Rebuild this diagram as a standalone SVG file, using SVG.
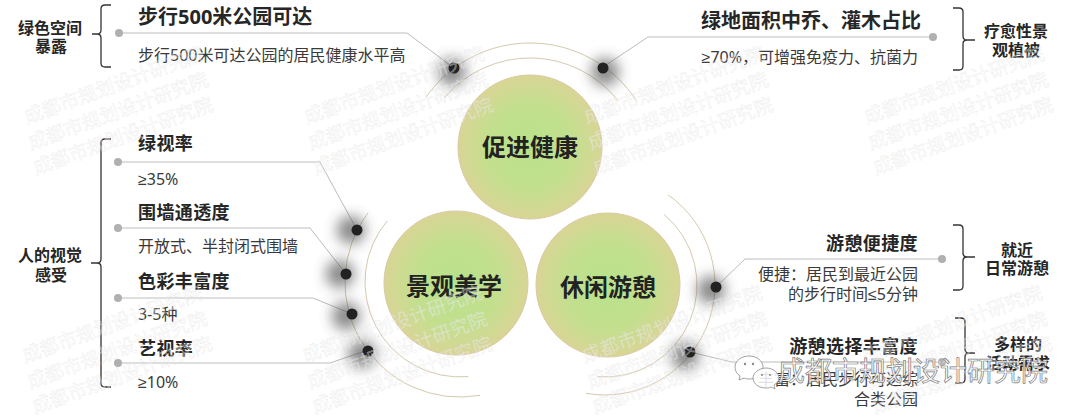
<svg xmlns="http://www.w3.org/2000/svg" width="1080" height="418" viewBox="0 0 1080 418">
<defs>
<style>
text{font-family:"Noto Sans","Noto Sans CJK SC","Liberation Sans",sans-serif;}
.title{font-size:18px;font-weight:bold;fill:#262626;letter-spacing:0.4px;}
.ttop{font-size:20px;font-weight:bold;fill:#262626;}
.body{font-size:16px;fill:#3a3a3a;}
.sym{font-family:"Liberation Sans",sans-serif;}
.lbl{font-size:16px;font-weight:bold;fill:#262626;text-anchor:middle;}
.ctext{font-size:24px;font-weight:bold;fill:#222;text-anchor:middle;}
.brk{fill:none;stroke:#333;stroke-width:1.3;}
.arc{fill:none;stroke:#d6c9ae;stroke-width:1;}
.ln{fill:none;stroke:#bdbdbd;stroke-width:1;}
.gdot{fill:#b0b0b0;}
.bdot{fill:#222;}
.shd{fill:#3a3a3a;opacity:0.6;filter:url(#blur);}
.circ{fill:url(#cg);stroke:#d9c9a3;stroke-width:1;}
.wm{font-family:"Noto Sans CJK SC",sans-serif;font-size:19px;fill:#fff;fill-opacity:0.35;stroke:#d2d2d2;stroke-width:0.5;stroke-opacity:0.42;}
</style>
<radialGradient id="cg" cx="0.5" cy="0.5" r="0.5">
<stop offset="0" stop-color="#b8e28c"/>
<stop offset="0.6" stop-color="#c3df8e"/>
<stop offset="1" stop-color="#d9d595"/>
</radialGradient>
<filter id="blur" x="-2" y="-2" width="5" height="5"><feGaussianBlur stdDeviation="7"/></filter>
</defs>
<rect width="1080" height="418" fill="#fff"/>

<g id="arcs">
<path class="arc" d="M426,97.1 A127,127 0 0 1 636.5,100.8"/>
<path class="arc" d="M444.2,98 A112,112 0 0 1 618.3,101"/>
<path class="arc" d="M368.1,212.8 A115,115 0 0 0 480,395.3"/>
<path class="arc" d="M387.2,220.9 A95,95 0 0 0 468.3,376.6"/>
<path class="arc" d="M668.1,194.9 A110,110 0 0 1 585.9,393.3"/>
<path class="arc" d="M664.1,214.5 A92,92 0 0 1 597,376.7"/>
</g>

<g id="node-health"><circle class="circ" cx="530" cy="147" r="72"/><text class="ctext" x="530" y="156">促进健康</text></g>
<g id="node-aesthetics"><circle class="circ" cx="456" cy="283" r="72"/><text class="ctext" x="454" y="295">景观美学</text></g>
<g id="node-leisure"><circle class="circ" cx="608" cy="285" r="72"/><text class="ctext" x="608" y="296">休闲游憩</text></g>

<g id="connectors">
<polyline class="ln" points="119,33 407,33 454,68"/>
<polyline class="ln" points="933,37 648,37 603,67"/>
<polyline class="ln" points="118,162 320,162 357,230"/>
<polyline class="ln" points="118,228 310,228 346,274"/>
<polyline class="ln" points="118,298 313,298 352,314"/>
<polyline class="ln" points="118,363 330,363 368,350"/>
<polyline class="ln" points="942,259 745,259 716,287"/>
<polyline class="ln" points="942,362 732,362 690,352"/>
<g>
<circle class="gdot" cx="119" cy="33" r="4"/><circle class="gdot" cx="933" cy="37" r="4"/>
<circle class="gdot" cx="118" cy="162" r="4"/><circle class="gdot" cx="118" cy="228" r="4"/>
<circle class="gdot" cx="118" cy="298" r="4"/><circle class="gdot" cx="118" cy="363" r="4"/>
<circle class="gdot" cx="942" cy="259" r="4"/><circle class="gdot" cx="942" cy="362" r="4"/>
</g>
<g>
<circle class="shd" cx="452" cy="72" r="14"/><circle class="shd" cx="605" cy="72" r="14"/>
<circle class="shd" cx="351" cy="230" r="14"/><circle class="shd" cx="340" cy="274" r="14"/>
<circle class="shd" cx="346" cy="316" r="14"/><circle class="shd" cx="362" cy="354" r="14"/>
<circle class="shd" cx="711" cy="290" r="14"/><circle class="shd" cx="685" cy="356" r="14"/>
</g>
<g>
<circle class="bdot" cx="454" cy="68" r="5.5"/><circle class="bdot" cx="603" cy="68" r="5.5"/>
<circle class="bdot" cx="357" cy="230" r="5.5"/><circle class="bdot" cx="346" cy="274" r="5.5"/>
<circle class="bdot" cx="352" cy="314" r="5.5"/><circle class="bdot" cx="368" cy="351" r="5.5"/>
<circle class="bdot" cx="716" cy="287" r="5.5"/><circle class="bdot" cx="690" cy="352" r="5.5"/>
</g>
</g>

<g id="group-green-exposure">
<path class="brk" d="M111,5 H105 Q101,5 101,9 V30 Q101,34 97,34 H92 H97 Q101,34 101,38 V63 Q101,67 105,67 H111"/>
<text class="lbl" x="50" y="34">绿色空间</text>
<text class="lbl" x="51" y="52">暴露</text>
</g>
<g id="item-walk500">
<text class="ttop" x="138" y="24">步行500米公园可达</text>
<text class="body" x="138" y="61">步行500米可达公园的居民健康水平高</text>
</g>

<g id="group-healing">
<path class="brk" d="M953,8 H959 Q963,8 963,12 V36 Q963,40 967,40 H975 H967 Q963,40 963,44 V66 Q963,70 959,70 H953"/>
<text class="lbl" x="1016" y="37">疗愈性景</text>
<text class="lbl" x="1016" y="56">观植被</text>
</g>
<g id="item-trees">
<text class="ttop" x="921" y="28" text-anchor="end">绿地面积中乔、灌木占比</text>
<text class="body" x="918" y="63" text-anchor="end"><tspan class="sym">≥</tspan>70%，可增强免疫力、抗菌力</text>
</g>

<g id="group-visual">
<path class="brk" d="M111,139 H105 Q101,139 101,143 V259 Q101,263 97,263 H91 H97 Q101,263 101,267 V383 Q101,387 105,387 H111"/>
<text class="lbl" x="50" y="261">人的视觉</text>
<text class="lbl" x="51" y="281">感受</text>
</g>
<g id="item-green-view">
<text class="title" x="138" y="150">绿视率</text>
<text class="body" x="138" y="185"><tspan class="sym">≥</tspan>35%</text>
</g>
<g id="item-wall">
<text class="title" x="138" y="219">围墙通透度</text>
<text class="body" x="138" y="252">开放式、半封闭式围墙</text>
</g>
<g id="item-color">
<text class="title" x="138" y="288">色彩丰富度</text>
<text class="body" x="138" y="320">3-5种</text>
</g>
<g id="item-art">
<text class="title" x="138" y="355">艺视率</text>
<text class="body" x="138" y="388"><tspan class="sym">≥</tspan>10%</text>
</g>

<g id="group-nearby">
<path class="brk" d="M953,225 H959 Q963,225 963,229 V253 Q963,257 967,257 H975 H967 Q963,257 963,261 V286 Q963,290 959,290 H953"/>
<text class="lbl" x="1017" y="256">就近</text>
<text class="lbl" x="1017" y="274">日常游憩</text>
</g>
<g id="item-convenience">
<text class="title" x="918" y="250" text-anchor="end">游憩便捷度</text>
<text class="body" x="918" y="280" text-anchor="end">便捷：居民到最近公园</text>
<text class="body" x="918" y="300" text-anchor="end">的步行时间<tspan class="sym">≤</tspan>5分钟</text>
</g>

<g id="group-diverse">
<path class="brk" d="M955,318 H961 Q965,318 965,322 V349 Q965,353 969,353 H975 H969 Q965,353 965,357 V379 Q965,383 961,383 H955"/>
<text class="lbl" x="1018" y="350">多样的</text>
<text class="lbl" x="1018" y="369">活动需求</text>
</g>
<g id="item-choice">
<text class="title" x="918" y="353" text-anchor="end">游憩选择丰富度</text>
<text class="body" x="918" y="385" text-anchor="end">丰富：居民步行可达综</text>
<text class="body" x="918" y="405" text-anchor="end">合类公园</text>
</g>

<g id="watermark">
<g class="wm">
<text transform="translate(27,124) rotate(-20)">成都市规划设计研究院</text>
<text transform="translate(31,150) rotate(-20)">成都市规划设计研究院</text>
<text transform="translate(36,175) rotate(-20)">成都市规划设计研究院</text>
<text transform="translate(307,124) rotate(-20)">成都市规划设计研究院</text>
<text transform="translate(311,150) rotate(-20)">成都市规划设计研究院</text>
<text transform="translate(316,175) rotate(-20)">成都市规划设计研究院</text>
<text transform="translate(587,124) rotate(-20)">成都市规划设计研究院</text>
<text transform="translate(591,150) rotate(-20)">成都市规划设计研究院</text>
<text transform="translate(596,175) rotate(-20)">成都市规划设计研究院</text>
<text transform="translate(867,124) rotate(-20)">成都市规划设计研究院</text>
<text transform="translate(871,150) rotate(-20)">成都市规划设计研究院</text>
<text transform="translate(876,175) rotate(-20)">成都市规划设计研究院</text>
<text transform="translate(25,363) rotate(-20)">成都市规划设计研究院</text>
<text transform="translate(30,389) rotate(-20)">成都市规划设计研究院</text>
<text transform="translate(35,414) rotate(-20)">成都市规划设计研究院</text>
<text transform="translate(305,363) rotate(-20)">成都市规划设计研究院</text>
<text transform="translate(310,389) rotate(-20)">成都市规划设计研究院</text>
<text transform="translate(315,414) rotate(-20)">成都市规划设计研究院</text>
<text transform="translate(585,363) rotate(-20)">成都市规划设计研究院</text>
<text transform="translate(590,389) rotate(-20)">成都市规划设计研究院</text>
<text transform="translate(595,414) rotate(-20)">成都市规划设计研究院</text>
<text transform="translate(865,363) rotate(-20)">成都市规划设计研究院</text>
<text transform="translate(870,389) rotate(-20)">成都市规划设计研究院</text>
<text transform="translate(875,414) rotate(-20)">成都市规划设计研究院</text>
</g>
<g id="wechat-mark">
<path d="M749,356 C741,356 735,361 735,367 C735,371 737,374 740,376 L739,380 L744,378 C746,379 748,379 750,379 C758,379 763,374 763,367 C763,361 757,356 749,356 Z" fill="#fff" fill-opacity="0.85" stroke="#8a8a8a" stroke-width="0.8"/>
<path d="M766,368 C759,368 753,373 753,378 C753,384 759,388 766,388 C768,388 769,388 771,387 L775,389 L774,385 C777,383 779,381 779,378 C779,373 773,368 766,368 Z" fill="#fff" fill-opacity="0.85" stroke="#8a8a8a" stroke-width="0.8"/>
<circle cx="745" cy="364" r="1.2" fill="#8a8a8a"/><circle cx="753" cy="364" r="1.2" fill="#8a8a8a"/>
<circle cx="762" cy="375" r="1" fill="#8a8a8a"/><circle cx="770" cy="375" r="1" fill="#8a8a8a"/>
<text x="778" y="381" style="font-family:'Noto Sans CJK SC',sans-serif;font-size:27px;fill:#fff;fill-opacity:0.9;stroke:#7a7a7a;stroke-width:0.7;">成都市规划设计研究院</text>
</g>
</g>
</svg>
